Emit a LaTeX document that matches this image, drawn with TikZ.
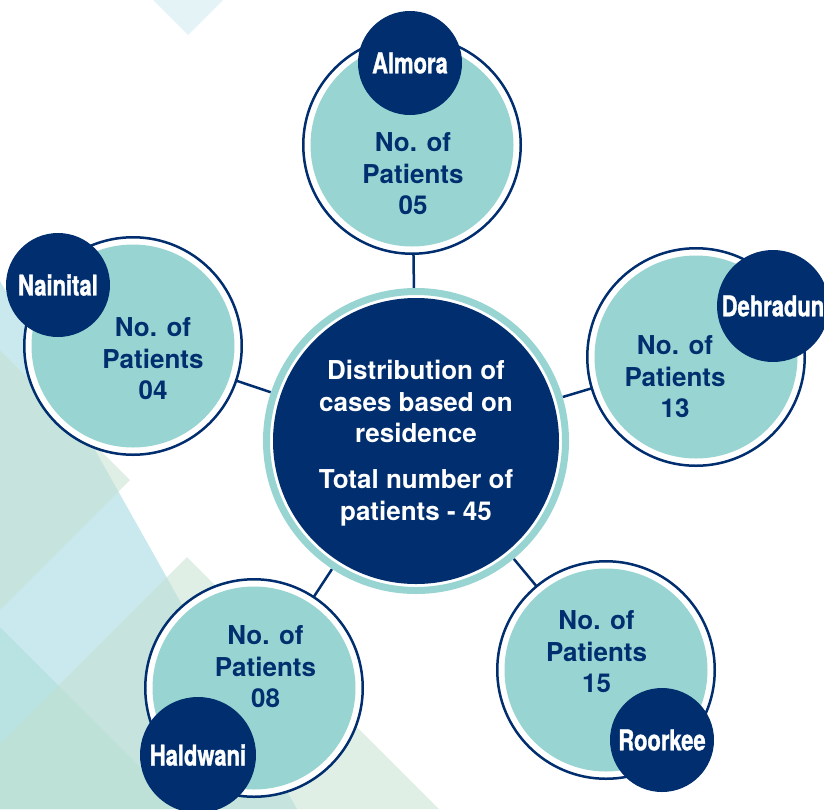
\documentclass[tikz,border=0pt]{standalone}
\usepackage{fontspec}
\setmainfont{TeX Gyre Heros}
\newfontfamily\badgefont[FakeStretch=0.77, FakeBold=1.2]{TeX Gyre Heros}
\usetikzlibrary{backgrounds}

\definecolor{darknavy}{RGB}{0,46,110}
\definecolor{tealfill}{RGB}{152,213,210}
\definecolor{bgblue}{RGB}{150,212,222}
\definecolor{bggreen}{RGB}{195,225,205}
\definecolor{bgteal}{RGB}{170,220,215}

\begin{document}
\begin{tikzpicture}[
    x=1pt, y=-1pt,
    % Styles
    bgshape/.style={fill=#1, opacity=0.5, draw=none},
    spoke/.style={draw=darknavy, line width=2.5pt},
    hubback/.style={circle, fill=white, minimum size=306pt, inner sep=0pt},
    hubring/.style={circle, draw=tealfill, line width=7pt, minimum size=299pt, inner sep=0pt},
    hub/.style={circle, fill=darknavy, minimum size=286pt, inner sep=0pt},
    hubtext/.style={
        text=white, align=center, inner sep=0pt,
        font=\fontsize{26}{31.5}\selectfont\bfseries
    },
    site/.style={
        circle, draw=darknavy, line width=2.5pt, fill=white,
        minimum size=217.5pt, inner sep=0pt
    },
    sitefill/.style={circle, fill=tealfill, minimum size=203pt, inner sep=0pt},
    sitetext/.style={
        text=darknavy, align=center, inner sep=0pt,
        font=\fontsize{26}{31.5}\selectfont\bfseries
    },
    badge/.style={
        circle, fill=darknavy, text=white, minimum size=#1, inner sep=0pt,
        font=\badgefont\fontsize{28.5}{28.5}\selectfont\bfseries
    },
    badge/.default=104pt
  ]

    \useasboundingbox (0,0) rectangle (824,809);

    % --- Central hub ---
    \node (hubback) [hubback] at (416,441) {};
    \node (hubring) [hubring] at (hubback.center) {};
    \node (hub) [hub] at (hubback.center) {};
    \node (hubtxt) [hubtext] at (hub.center) [yshift=-2pt] {Distribution of\\cases based on\\residence\\[14.5pt]Total number of\\patients - 45};

    % --- Sites ---
    \node (alm) [site] at (412,145) {};
    \node (nai) [site] at (133,346) {};
    \node (deh) [site] at (696,357) {};
    \node (roo) [site] at (606,670) {};
    \node (hal) [site] at (254,688) {};

    \node (almfill) [sitefill] at (alm.center) {};
    \node (naifill) [sitefill] at (nai.center) {};
    \node (dehfill) [sitefill] at (deh.center) {};
    \node (roofill) [sitefill] at (roo.center) {};
    \node (halfill) [sitefill] at (hal.center) {};

    % --- Patient counts ---
    \node (almtxt) [sitetext] at (alm.center) [xshift=1pt, yshift=-29pt] {No. of\\Patients\\05};
    \node (naitxt) [sitetext] at (nai.center) [xshift=20pt, yshift=-12.7pt] {No. of\\Patients\\04};
    \node (dehtxt) [sitetext] at (deh.center) [xshift=-21pt, yshift=-20pt] {No. of\\Patients\\13};
    \node (rootxt) [sitetext] at (roo.center) [xshift=-9.5pt, yshift=18pt] {No. of\\Patients\\15};
    \node (haltxt) [sitetext] at (hal.center) [xshift=11.5pt, yshift=21pt] {No. of\\Patients\\08};

    % --- Place names ---
    \node (almbadge) [badge] at (alm.center) [xshift=-2pt, yshift=82pt] {Almora};
    \node (naibadge) [badge] at (nai.center) [xshift=-75pt, yshift=61pt] {Nainital};
    \node (dehbadge) [badge=112pt] at (deh.center) [xshift=77pt, yshift=51pt] {Dehradun};
    \node (roobadge) [badge] at (roo.center) [xshift=56pt, yshift=-70pt] {Roorkee};
    \node (halbadge) [badge=116pt] at (hal.center) [xshift=-56pt, yshift=-67pt] {Haldwani};

    % --- Background tiles and spokes ---
    \begin{pgfonlayer}{background}
        \fill[white] (0,0) rectangle (824,809);
        \fill[bgshape=bgblue] (0,281) -- (297,809) -- (0,809) -- cycle;
        \fill[bgshape=bggreen] (0,350) -- (130,480) -- (0,610) -- cycle;
        \fill[bgshape=bgteal] (0,627) -- (182,809) -- (0,809) -- cycle;
        \fill[bgshape=bggreen] (187,557) -- (439,809) -- (0,809) -- (0,744) -- cycle;
        \fill[bgshape=bgblue, opacity=0.25] (153,0) -- (188,35) -- (223,0) -- cycle;

        \draw[spoke] (hub.center) -- (alm.center);
        \draw[spoke] (hub.center) -- (nai.center);
        \draw[spoke] (hub.center) -- (deh.center);
        \draw[spoke] (hub.center) -- (roo.center);
        \draw[spoke] (hub.center) -- (hal.center);
    \end{pgfonlayer}

  \end{tikzpicture}
\end{document}
